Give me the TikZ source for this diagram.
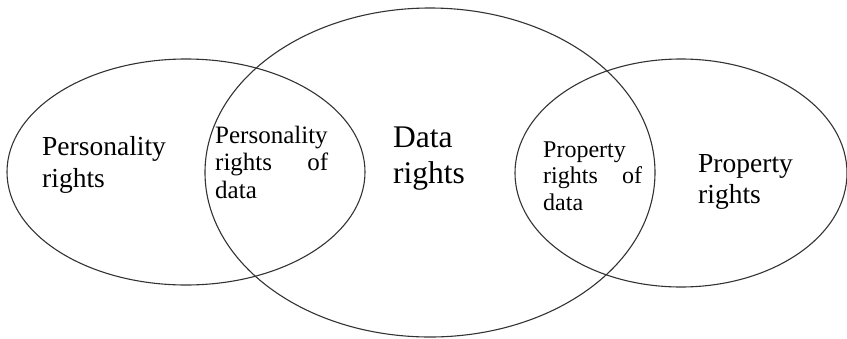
\documentclass[tikz,border=0pt]{standalone}
\usepackage{fontspec}
\setmainfont{Liberation Serif}
\usetikzlibrary{shapes.geometric}
\begin{document}
\begin{tikzpicture}[x=1pt,y=-1pt,
  ell/.style={ellipse, draw=black!80, line width=1.1pt, inner sep=0pt, outer sep=0pt},
  lbl/.style={anchor=base west, inner sep=0pt, align=left, text=black}]
\useasboundingbox (0,0) rectangle (847,338);
\node[ell, minimum width=358pt, minimum height=226pt] (left) at (186,172) {};
\node[ell, minimum width=450pt, minimum height=329pt] (mid) at (430,172.5) {};
\node[ell, minimum width=332pt, minimum height=228pt] (right) at (681,173) {};

\node[lbl, font=\fontsize{27.5}{32}\selectfont] (t1) at (42,187) {Personality\\rights};
\node[lbl, font=\fontsize{31.5}{36}\selectfont] (t2) at (393,183) {Data\\rights};
\node[lbl, font=\fontsize{25}{27.5}\selectfont] (t3) at (215,198) {Personality\\\makebox[113pt][l]{rights\hfill of}\\data};
\node[lbl, font=\fontsize{24}{26.5}\selectfont] (t4) at (543,210) {Property\\\makebox[99pt][l]{rights\hfill of}\\data};
\node[lbl, font=\fontsize{27.5}{31}\selectfont] (t5) at (698,203) {Property\\rights};
\end{tikzpicture}
\end{document}
